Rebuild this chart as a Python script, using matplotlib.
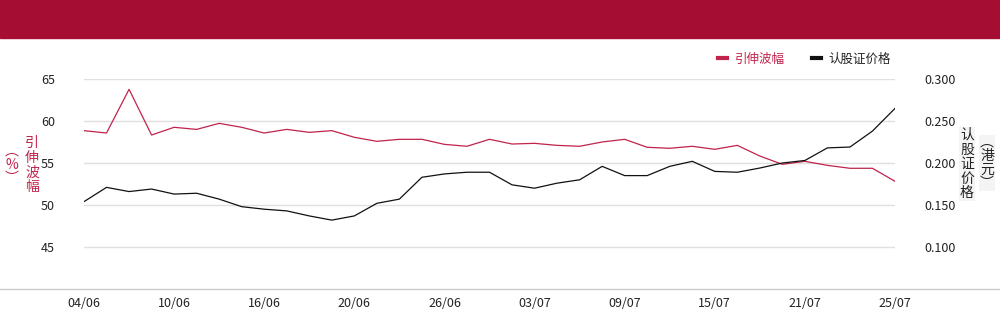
import matplotlib
matplotlib.use("Agg")
import matplotlib.pyplot as plt
from matplotlib.lines import Line2D
from matplotlib.patches import Rectangle

plt.rcParams['font.family'] = ['Noto Sans CJK SC', 'DejaVu Sans']

dates = ['04/06', '05/06', '06/06', '09/06', '10/06', '11/06', '12/06', '13/06', '16/06',
         '17/06', '18/06', '19/06', '20/06', '23/06', '24/06', '25/06', '26/06', '27/06',
         '30/06', '02/07', '03/07', '04/07', '07/07', '08/07', '09/07', '10/07', '11/07',
         '14/07', '15/07', '16/07', '17/07', '18/07', '21/07', '22/07', '23/07', '24/07',
         '25/07']
iv = [58.85, 58.57, 63.77, 58.33, 59.25, 59.0, 59.72, 59.25, 58.57, 59.0, 58.65, 58.85,
      58.06, 57.58, 57.82, 57.82, 57.22, 56.99, 57.82, 57.26, 57.34, 57.1, 56.99, 57.5,
      57.82, 56.87, 56.75, 56.99, 56.63, 57.1, 55.83, 54.84, 55.2, 54.72, 54.37, 54.37,
      52.82]
price = [0.154, 0.171, 0.166, 0.169, 0.163, 0.164, 0.157, 0.148, 0.145, 0.143, 0.137,
         0.132, 0.137, 0.152, 0.157, 0.183, 0.187, 0.189, 0.189, 0.174, 0.170, 0.176,
         0.180, 0.196, 0.185, 0.185, 0.196, 0.202, 0.190, 0.189, 0.194, 0.200, 0.203,
         0.218, 0.219, 0.238, 0.265]
tick_idx = [0, 4, 8, 12, 16, 20, 24, 28, 32, 36]

RED = '#c0234b'
BAND = '#a50e32'

fig = plt.figure(figsize=(10, 3.24), dpi=100)
fig.patches.append(Rectangle((0, 1 - 38 / 324), 1, 38 / 324, transform=fig.transFigure,
                             color=BAND, zorder=0))

ax = fig.add_axes([0.084, 35 / 324, 0.811, 210 / 324])
ax2 = ax.twinx()
x = list(range(len(dates)))
l1, = ax.plot(x, iv, color=RED, lw=0.9, label='引伸波幅')
l2, = ax2.plot(x, price, color='#111111', lw=0.9, label='认股证价格')

ax.set_xlim(0, len(dates) - 1)
ax.set_ylim(40, 65)
ax2.set_ylim(0.05, 0.30)
ax.set_yticks([45, 50, 55, 60, 65])
ax2.set_yticks([0.10, 0.15, 0.20, 0.25, 0.30])
ax2.set_yticklabels([f'{v:.3f}' for v in [0.10, 0.15, 0.20, 0.25, 0.30]])
ax.set_xticks(tick_idx)
ax.set_xticklabels([dates[i] for i in tick_idx])
ax.grid(axis='y', color='#e0e0e0', lw=1)
ax.set_axisbelow(True)
for a in (ax, ax2):
    for s in a.spines.values():
        s.set_visible(False)
    a.tick_params(length=0, labelsize=9, colors='#222222')
ax.tick_params(axis='y', pad=21)
ax2.tick_params(axis='y', pad=21)
ax.tick_params(axis='x', pad=6)

# full-width baseline
fig.add_artist(Line2D([0, 1], [35 / 324, 35 / 324], color='#cccccc', lw=1,
                      transform=fig.transFigure))

# axis titles (vertical)
fig.text(0.032, 1 - 165 / 324, '引\n伸\n波\n幅', color=RED, fontsize=10,
         ha='center', va='center', linespacing=1.05)
fig.text(0.012, 1 - 165 / 324, '︵\n%\n︶', color=RED, fontsize=10,
         ha='center', va='center', linespacing=0.95)
fig.text(0.967, 1 - 164 / 324, '认\n股\n证\n价\n格', color='#222222', fontsize=10,
         ha='center', va='center', linespacing=1.05,
         bbox=dict(facecolor='#f4f4f4', edgecolor='none', pad=0.5))
fig.text(0.987, 1 - 163 / 324, '︵\n港\n元\n︶', color='#222222', fontsize=10,
         ha='center', va='center', linespacing=0.95,
         bbox=dict(facecolor='#f4f4f4', edgecolor='none', pad=0.5))

leg = fig.legend(handles=[l1, l2], ncol=2, loc='center right',
                 bbox_to_anchor=(0.902, 1 - 59 / 324), frameon=False, fontsize=9,
                 handlelength=0.7, handletextpad=0.6, columnspacing=2.2)
for h in leg.legend_handles:
    h.set_linewidth(3)
leg.get_texts()[0].set_color(RED)
leg.get_texts()[1].set_color('#222222')

fig.savefig('out.png', dpi=100)
